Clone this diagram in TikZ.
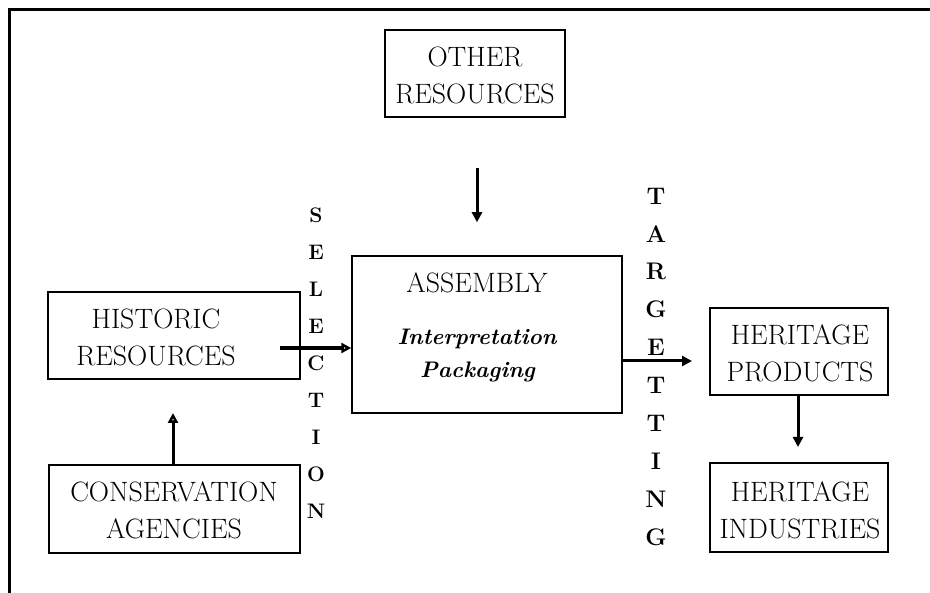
\documentclass[tikz,border=0pt]{standalone}
\usetikzlibrary{arrows.meta}
\begin{document}
\begin{tikzpicture}[x=1pt,y=-1pt,
  box/.style={draw,line width=1.5pt,inner sep=0pt},
  lbl/.style={inner sep=0pt,align=center,font=\fontsize{28}{37}\selectfont},
  itl/.style={inner sep=0pt,anchor=base,font=\fontsize{22.5}{25}\selectfont\bfseries\itshape},
  sel/.style={inner sep=0pt,font=\fontsize{21}{21}\selectfont\bfseries},
  tgt/.style={inner sep=0pt,font=\fontsize{24}{24}\selectfont\bfseries},
  arr/.style={line width=3pt,-{Triangle[length=10pt,width=10pt]}},
  oarr/.style={line width=3pt,-{Triangle[open,length=10pt,width=10pt]}}]
\useasboundingbox (0,0) rectangle (930,593);
% frame
\draw[line width=3pt] (9.5,593) -- (9.5,9.5) -- (930,9.5);
% boxes
\node[box,minimum width=180pt,minimum height=87pt] (other) at (475,73.5) {};
\node[box,minimum width=270pt,minimum height=157pt] (asm) at (487,334.5) {};
\node[box,minimum width=252pt,minimum height=87pt] (hr) at (174,335.5) {};
\node[box,minimum width=251pt,minimum height=88pt] (ca) at (174.5,509) {};
\node[box,minimum width=178pt,minimum height=87pt] (hp) at (799,351.5) {};
\node[box,minimum width=178pt,minimum height=89pt] (hi) at (799,507.5) {};
% labels
\node[lbl] (tother) at (475,75) {OTHER\\RESOURCES};
\node[lbl] (thr) at (156,337) {HISTORIC\\RESOURCES};
\node[lbl] (tca) at (174,510) {CONSERVATION\\AGENCIES};
\node[lbl] (thp) at (800,353.5) {HERITAGE\\PRODUCTS};
\node[lbl] (thi) at (800,510) {HERITAGE\\INDUSTRIES};
\node[lbl] (tasm) at (477,282.5) {ASSEMBLY};
\node[itl] (tint) at (477,345) {Interpretation};
\node[itl] (tpack) at (477.5,378) {Packaging};
% vertical words
\foreach \l [count=\i] in {S,E,L,E,C,T,I,O,N}
  \node[sel] (s\i) at (316,{215+37.06*(\i-1)}) {\l};
\foreach \l [count=\i] in {T,A,R,G,E,T,T,I,N,G}
  \node[tgt] (t\i) at (656,{196+37.9*(\i-1)}) {\l};
% arrows
\draw[arr] ([shift={(2,50.25)}]other.south) -- ([shift={(-10,-33)}]asm.north);
\draw[oarr,line width=4pt] ([shift={(-20.75,12.5)}]hr.east) -- ([shift={(0,13.5)}]asm.west);
\draw[arr] ([shift={(0,26.5)}]asm.east) -- ([shift={(-17.25,9.5)}]hp.west);
\draw[arr] ([shift={(-1,0)}]hp.south) -- ([shift={(-1,-15.25)}]hi.north);
\draw[oarr] ([shift={(-1.5,0)}]ca.north) -- ([shift={(-1,33.25)}]hr.south);
\end{tikzpicture}
\end{document}
